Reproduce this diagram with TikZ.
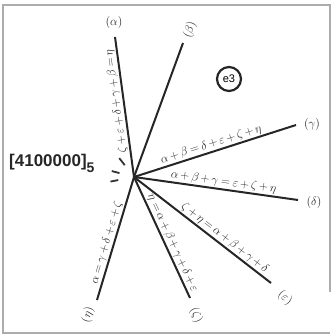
\documentclass[tikz,border=0pt]{standalone}
\usepackage{fontspec}
\newfontfamily\arialfont{Liberation Sans}
\newcommand\myeqspacing{\medmuskip=3mu\thickmuskip=4mu\relax}
\begin{document}
\begin{tikzpicture}[x=1pt,y=1pt,
  ray/.style={line width=2pt, draw=black!85},
  tick/.style={line width=1.8pt, draw=black!80},
  eq/.style={font={\fontsize{12}{14}\selectfont\myeqspacing}, inner sep=1.2pt, text=black!85},
  endlab/.style={font=\fontsize{12}{14}\selectfont, inner sep=0pt, text=black!85},
  frame/.style={draw=gray!65, line width=1.6pt}]
\useasboundingbox (0,0) rectangle (332,335);
\draw[frame] (330,43) -- (330,330) -- (3,330) -- (3,2) -- (330,2);

\coordinate (C) at (134,158);
\coordinate (a) at (115,298);
\coordinate (b) at (183,292);
\coordinate (g) at (296,210);
\coordinate (d) at (298,135);
\coordinate (e) at (271,52);
\coordinate (z) at (190,37);
\coordinate (h) at (97,35);

\draw[ray] (C) -- (a) node[eq, pos=0.55, rotate=97.8, anchor=south] (qa) {$\zeta+\varepsilon+\delta+\gamma+\beta=\eta$};
\draw[ray] (C) -- (b);
\draw[ray] (C) -- (g) node[eq, pos=0.49, sloped, above] (qg) {$\alpha+\beta=\delta+\varepsilon+\zeta+\eta$};
\draw[ray] (C) -- (d) node[eq, pos=0.54, sloped, above] (qd) {$\alpha+\beta+\gamma=\varepsilon+\zeta+\eta$};
\draw[ray] (C) -- (e) node[eq, pos=0.63, sloped, above] (qe) {$\zeta+\eta=\alpha+\beta+\gamma+\delta$};
\draw[ray] (C) -- (z) node[eq, pos=0.57, sloped, above] (qz) {$\eta=\alpha+\beta+\gamma+\delta+\varepsilon$};
\draw[ray] (C) -- (h) node[eq, pos=0.55, sloped, above] (qh) {$\alpha=\gamma+\delta+\varepsilon+\zeta$};

\draw[tick] ([shift={(128:15)}]C) -- ([shift={(128:24)}]C);
\draw[tick] ([shift={(165:15)}]C) -- ([shift={(165:23)}]C);
\draw[tick] ([shift={(191:16)}]C) -- ([shift={(191:24)}]C);

\node[endlab] (la) at (114,312) {$(\alpha)$};
\node[endlab, rotate=70] (lb) at (190,305) {$(\beta)$};
\node[endlab] (lg) at (312,210) {$(\gamma)$};
\node[endlab] (ld) at (314,132) {$(\delta)$};
\node[endlab, rotate=-38] (le) at (285,37) {$(\varepsilon)$};
\node[endlab, rotate=-65] (lz) at (196,20) {$(\zeta)$};
\node[endlab, rotate=73] (lh) at (88,20) {$(\eta)$};

\node[anchor=base west, inner sep=0pt, font=\arialfont\bfseries\fontsize{17}{20}\selectfont, text=black!85] (code) at (9,168) {[4100000]\raisebox{-0.35em}{\fontsize{14}{16}\selectfont 5}};

\node[circle, draw=black!85, line width=2.2pt, minimum size=24pt, inner sep=0pt, font=\arialfont\fontsize{11}{13}\selectfont] (e3) at (229,256) {e3};
\end{tikzpicture}
\end{document}
